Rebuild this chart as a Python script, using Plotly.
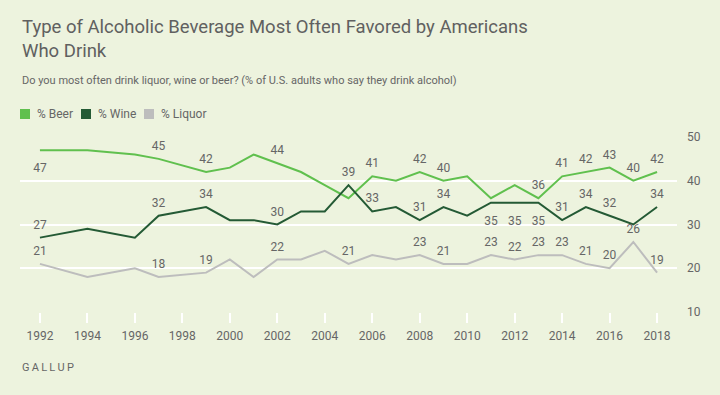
import plotly.graph_objects as go

years = [1992, 1994, 1996, 1997, 1999, 2000, 2001, 2002, 2003, 2004, 2005, 2006,
         2007, 2008, 2009, 2010, 2011, 2012, 2013, 2014, 2015, 2016, 2017, 2018]
beer = [47, 47, 46, 45, 42, 43, 46, 44, 42, 39, 36, 41,
        40, 42, 40, 41, 36, 39, 36, 41, 42, 43, 40, 42]
wine = [27, 29, 27, 32, 34, 31, 31, 30, 33, 33, 39, 33,
        34, 31, 34, 32, 35, 35, 35, 31, 34, 32, 30, 34]
liquor = [21, 18, 20, 18, 19, 22, 18, 22, 22, 24, 21, 23,
          22, 23, 21, 21, 23, 22, 23, 23, 21, 20, 26, 19]

# which points carry a value label
beer_labeled = [1992, 1997, 1999, 2002, 2006, 2008, 2009, 2013, 2014, 2015, 2016, 2017, 2018]
wine_labeled = [1992, 1997, 1999, 2002, 2005, 2006, 2008, 2009, 2011, 2012, 2013,
                2014, 2015, 2016, 2018]
liquor_labeled = [1992, 1997, 1999, 2002, 2005, 2008, 2009, 2011, 2012, 2013, 2014,
                  2015, 2016, 2017, 2018]
beer_below = [1992]
wine_below = [2011, 2012, 2013]
liquor_below = []

x_ticks = list(range(1992, 2019, 2))
y_ticks = [10, 20, 30, 40, 50]

title_text = "Type of Alcoholic Beverage Most Often Favored by Americans<br>Who Drink"
subtitle_text = "Do you most often drink liquor, wine or beer? (% of U.S. adults who say they drink alcohol)"
series_names = ["% Beer", "% Wine", "% Liquor"]

BG = "#edf3de"
TXT = "#666666"
FONT = "Roboto"
colors = ["#60c04e", "#245a35", "#bdbdbd"]

fig = go.Figure()

for name, vals, lab, below, col in [
    (series_names[0], beer, beer_labeled, beer_below, colors[0]),
    (series_names[1], wine, wine_labeled, wine_below, colors[1]),
    (series_names[2], liquor, liquor_labeled, liquor_below, colors[2]),
]:
    texts = [str(v) if y in lab else "" for y, v in zip(years, vals)]
    pos = ["bottom center" if y in below else "top center" for y in years]
    msize = [19 if y in below else 8 for y in years]
    fig.add_trace(go.Scatter(
        x=years, y=vals, mode="lines+markers+text", name=name,
        line=dict(color=col, width=2),
        marker=dict(size=msize, color="rgba(0,0,0,0)", line=dict(width=0)),
        text=texts, textposition=pos,
        textfont=dict(family=FONT, size=12, color=TXT),
        cliponaxis=False, showlegend=False, hoverinfo="skip",
    ))

fig.update_layout(
    width=720, height=395,
    paper_bgcolor=BG, plot_bgcolor=BG,
    margin=dict(l=20, r=43, t=137, b=83),
    font=dict(family=FONT, color=TXT, size=12),
    showlegend=False,
    hovermode=False,
    xaxis=dict(
        range=[1991.16, 2018.84], tickvals=x_ticks, showgrid=False, zeroline=False,
        ticks="outside", ticklen=10, tickwidth=2, tickcolor="white",
        tickfont=dict(family=FONT, size=12, color=TXT), showline=False,
        ticklabelstandoff=3,
    ),
    yaxis=dict(
        range=[10, 50], tickvals=y_ticks, side="right", showgrid=True,
        gridcolor="white", gridwidth=2, zeroline=False, showline=False,
        tickfont=dict(family=FONT, size=12, color=TXT), ticklabelstandoff=9,
    ),
)

fig.add_annotation(text=title_text, xref="paper", yref="paper", x=0, y=1,
                   yshift=123, xanchor="left", yanchor="top", align="left",
                   showarrow=False, font=dict(family=FONT, size=18.5, color="#606060"))
fig.add_annotation(text=subtitle_text, xref="paper", yref="paper", x=0, y=1,
                   yshift=57, xanchor="left", yanchor="middle", align="left",
                   showarrow=False, font=dict(family=FONT, size=11, color=TXT))

# legend swatches
lx = [20, 81, 144]
for i, (nm, col) in enumerate(zip(series_names, colors)):
    fig.add_shape(type="rect", xref="paper", yref="paper",
                  x0=(lx[i] - 20) / 657, x1=(lx[i] - 10) / 657,
                  y0=1 + (137 - 119) / 175, y1=1 + (137 - 109) / 175,
                  fillcolor=col, line=dict(width=0))
    fig.add_annotation(text=nm, xref="paper", yref="paper",
                       x=(lx[i] - 5) / 657, y=1 + (137 - 114) / 175,
                       xanchor="left", yanchor="middle", showarrow=False,
                       font=dict(family=FONT, size=12, color=TXT))

fig.add_annotation(text="\u2009".join("GALLUP"), xref="paper", yref="paper",
                   x=0, y=0, yshift=-55, xanchor="left", yanchor="middle",
                   showarrow=False, font=dict(family=FONT, size=11, color=TXT))

fig.write_html("out.html", config={"displayModeBar": False},
               post_script="document.body.style.margin='0';document.body.style.background='%s';" % BG)
